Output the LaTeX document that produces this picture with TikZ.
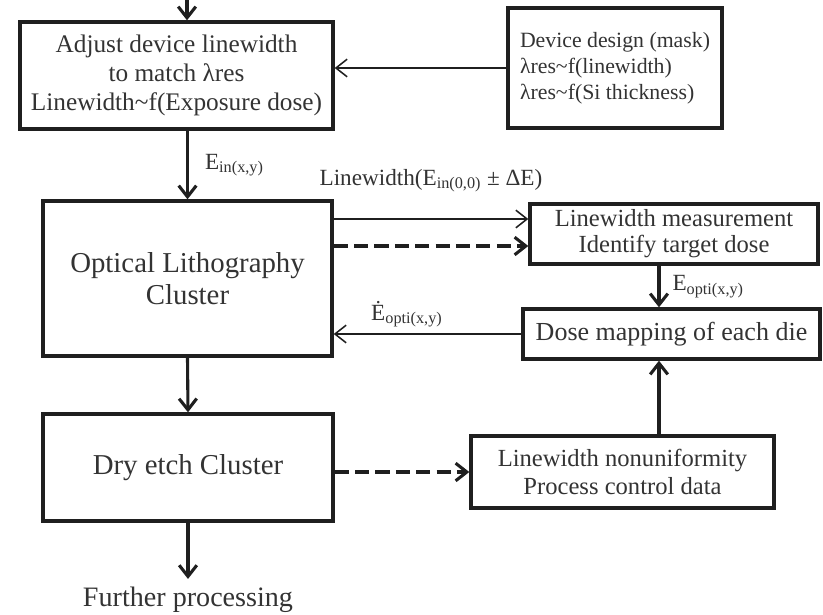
\documentclass[tikz,border=0pt]{standalone}
\usepackage{fontspec}
\setmainfont{Liberation Serif}
\usetikzlibrary{arrows.meta}

\begin{document}
\begin{tikzpicture}[line join=miter, >={Straight Barb[length=2.8mm,width=4.4mm]},
	procbox/.style={draw=black!88, line width=2.4pt, inner sep=0pt, align=center, text=black!80},
	flow/.style={->, draw=black!88, line width=2.2pt},
	feed/.style={->, draw=black!88, line width=1.1pt},
	dasharr/.style={->, draw=black!88, line width=2.2pt, dash pattern=on 10pt off 4.5pt},
	lbl/.style={text=black!80, inner sep=0pt, font=\fontsize{16.5}{19}\selectfont}]
	% Khung hình
	\useasboundingbox (0,0) rectangle (20.575,-15.35);
	
	% Các khối bên trái
	\node[procbox, minimum width=7.825cm, minimum height=2.675cm, font=\fontsize{18}{20.6}\selectfont] (adj) at (4.4125,-1.8875)
		{Adjust device linewidth\\to match λres\\Linewidth\textasciitilde f(Exposure dose)};
	\node[procbox, minimum width=7.225cm, minimum height=3.875cm, font=\fontsize{20.5}{22.8}\selectfont] (opt) at (4.6875,-6.9625)
		{Optical Lithography\\Cluster};
	\node[procbox, minimum width=7.25cm, minimum height=2.675cm, font=\fontsize{20.5}{22.8}\selectfont] (dry) at (4.7,-11.6875)
		{Dry etch Cluster};
	\node[text=black!80, inner xsep=0pt, inner ysep=2mm, font=\fontsize{20}{22}\selectfont] (fur) at (4.7,-15)
		{Further processing};
	
	% Các khối bên phải
	\node[procbox, align=left, minimum width=5.35cm, minimum height=3cm, font=\fontsize{15.5}{18.5}\selectfont] (dev) at (15.375,-1.7)
		{Device design (mask)\\λres\textasciitilde f(linewidth)\\λres\textasciitilde f(Si thickness)};
	\node[procbox, minimum width=7.2cm, minimum height=1.5cm, font=\fontsize{17.5}{18.5}\selectfont] (meas) at (16.85,-5.85)
		{Linewidth measurement\\Identify target dose};
	\node[procbox, minimum width=7.425cm, minimum height=1.25cm, font=\fontsize{18.5}{20}\selectfont] (dose) at (16.7875,-8.35)
		{Dose mapping of each die};
	\node[procbox, minimum width=7.575cm, minimum height=1.8cm, font=\fontsize{17.5}{19.5}\selectfont] (nonu) at (15.5625,-11.8)
		{Linewidth nonuniformity\\Process control data};
	
	% Điểm phụ cho các mũi tên
	\coordinate (top) at (4.675,0);
	\coordinate (cx) at (16.475,0);
	\coordinate (m1) at ([yshift=3.75mm]meas.west);
	\coordinate (m2) at ([yshift=-3mm]meas.west);
	
	% Luồng chính
	\draw[flow] (top) -- (top |- adj.north);
	\draw[flow] (adj.south -| opt.north) -- (opt.north)
		node[lbl, midway, right=4mm] {E\textsubscript{in(x,y)}};
	\draw[flow] (opt.south) -- (dry.north);
	\draw[flow] (dry.south) -- (fur.north);
	
	% Các mũi tên nối sang phải và phản hồi
	\draw[feed] (dev.west) -- (dev.west -| adj.east);
	\draw[feed] (m1 -| opt.east) -- (m1)
		node[lbl, midway, above=6.5mm] {Linewidth(E\textsubscript{in(0,0)} ± ΔE)};
	\draw[dasharr] (m2 -| opt.east) -- (m2);
	\draw[flow] (cx |- meas.south) -- (cx |- dose.north)
		node[lbl, midway, right=3mm] {E\textsubscript{opti(x,y)}};
	\draw[feed] (dose.west) -- (dose.west -| opt.east)
		node[lbl, pos=0.61, above=1.5mm] {Ė\textsubscript{opti(x,y)}};
	\draw[flow] (cx |- nonu.north) -- (cx |- dose.south);
	\draw[dasharr] (nonu.west -| dry.east) -- (nonu.west);
\end{tikzpicture}
\end{document}
